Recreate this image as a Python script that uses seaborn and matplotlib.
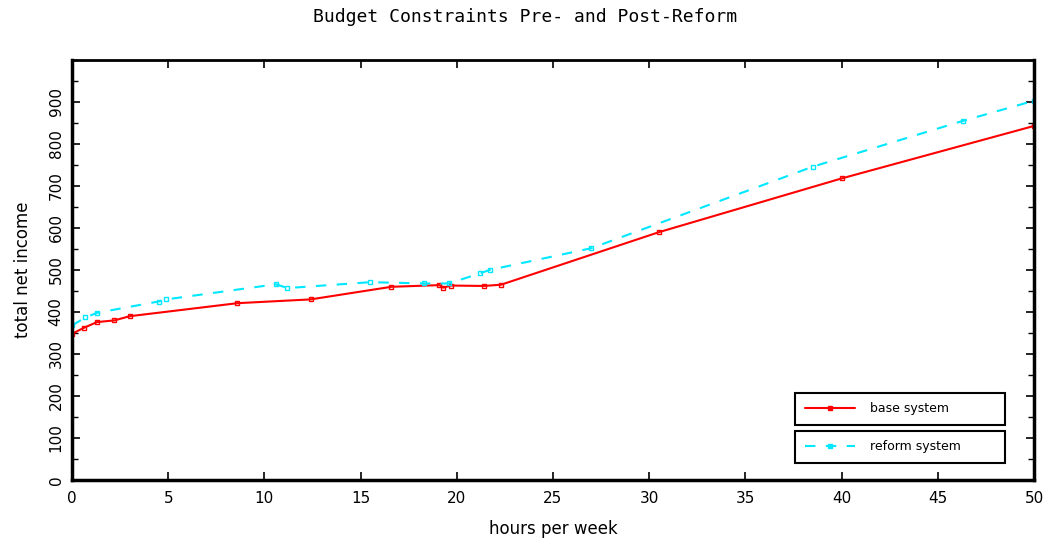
import matplotlib
matplotlib.use("Agg")
import matplotlib.pyplot as plt
import seaborn as sns
import pandas as pd
from matplotlib.lines import Line2D
from matplotlib.ticker import MultipleLocator

# ---- data ----
hours_base = [0, 0.6, 1.3, 2.2, 3.0, 8.6, 12.4, 16.6, 19.1, 19.3, 19.7, 21.4, 22.3, 30.5, 40.0, 50.0]
income_base = [348, 362, 376, 380, 390, 421, 430, 460, 464, 458, 463, 462, 465, 590, 718, 843]

hours_reform = [0, 0.7, 1.3, 4.5, 4.9, 10.6, 11.2, 15.5, 18.3, 19.6, 21.2, 21.7, 27.0, 38.5, 46.3, 50.0]
income_reform = [368, 387, 398, 425, 430, 466, 457, 471, 468, 468, 492, 500, 552, 746, 855, 903]

series_labels = ["base system", "reform system"]
title = "Budget Constraints Pre- and Post-Reform"
xlabel = "hours per week"
ylabel = "total net income"
x_ticks = [0, 5, 10, 15, 20, 25, 30, 35, 40, 45, 50]
y_ticks = [0, 100, 200, 300, 400, 500, 600, 700, 800, 900]

RED = "#ff0000"
CYAN = "#00e8ff"

sns.set_theme(style="white")
plt.rcParams["font.family"] = ["DejaVu Sans"]
plt.rcParams["text.color"] = "black"
plt.rcParams["axes.labelcolor"] = "black"
plt.rcParams["xtick.color"] = "black"
plt.rcParams["ytick.color"] = "black"

fig = plt.figure(figsize=(10.51, 5.42), dpi=100)
ax = fig.add_axes([72 / 1051, 1 - 480 / 542, (1034 - 72) / 1051, (480 - 60) / 542])

df_base = pd.DataFrame({"hours": hours_base, "income": income_base})
df_ref = pd.DataFrame({"hours": hours_reform, "income": income_reform})

sns.lineplot(data=df_base, x="hours", y="income", ax=ax, color=RED, lw=1.5,
             marker="s", markersize=3.5, markeredgewidth=1, markerfacecolor="none",
             markeredgecolor=RED, estimator=None, sort=False)
sns.lineplot(data=df_ref, x="hours", y="income", ax=ax, color=CYAN, lw=1.5,
             linestyle=(0, (5, 5)), marker="s", markersize=3.5, markeredgewidth=1,
             markerfacecolor="none", markeredgecolor=CYAN, estimator=None, sort=False)

ax.set_xlim(0, 50)
ax.set_ylim(0, 1000)
ax.set_xticks(x_ticks)
ax.set_yticks(y_ticks)
ax.set_xticklabels([str(t) for t in x_ticks], fontsize=11, color="black")
ax.set_yticklabels([str(t) for t in y_ticks], fontsize=11, rotation=90, va="center",
                   color="black")
ax.yaxis.set_minor_locator(MultipleLocator(50))
ax.tick_params(axis="both", which="both", direction="in", top=True, right=True,
               bottom=True, left=True, color="black")
ax.tick_params(axis="both", which="major", length=6, width=1.2)
ax.tick_params(axis="both", which="minor", length=4, width=1.0)
ax.tick_params(axis="x", pad=8)
ax.tick_params(axis="y", pad=6)

for side, sp in ax.spines.items():
    sp.set_visible(True)
    sp.set_color("black")
    sp.set_linewidth(2.5 if side in ("left", "bottom", "right") else 2.0)

ax.set_xlabel(xlabel, fontsize=12, labelpad=10, color="black")
ax.set_ylabel(ylabel, fontsize=12, labelpad=12, color="black")
fig.text(0.5, 1 - 17 / 542, title, ha="center", va="center", fontsize=13,
         family=["DejaVu Sans Mono"], color="black")

ax.grid(False)

# two separate legend boxes like the reference
h_base = Line2D([0], [0], color=RED, lw=1.5, marker="s", markersize=3.5,
                markevery=[0], markerfacecolor=RED, markeredgecolor=RED)
h_ref = Line2D([0], [0], color=CYAN, lw=1.5, linestyle=(0, (5, 5)), marker="s",
               markersize=3.5, markevery=[0], markerfacecolor=CYAN, markeredgecolor=CYAN)

leg_kw = dict(loc="upper left", mode="expand", fontsize=9, handlelength=4.0,
              handletextpad=1.2, borderpad=0.75, fancybox=False, framealpha=1,
              edgecolor="black", borderaxespad=0, labelcolor="black")
leg1 = ax.legend([h_base], [series_labels[0]],
                 bbox_to_anchor=(0.752, 0.207, 0.218, 0.0), **leg_kw)
leg1.get_frame().set_linewidth(1.5)
ax.add_artist(leg1)
leg2 = ax.legend([h_ref], [series_labels[1]],
                 bbox_to_anchor=(0.752, 0.117, 0.218, 0.0), **leg_kw)
leg2.get_frame().set_linewidth(1.5)

fig.savefig("out.png", dpi=100, facecolor="white")
